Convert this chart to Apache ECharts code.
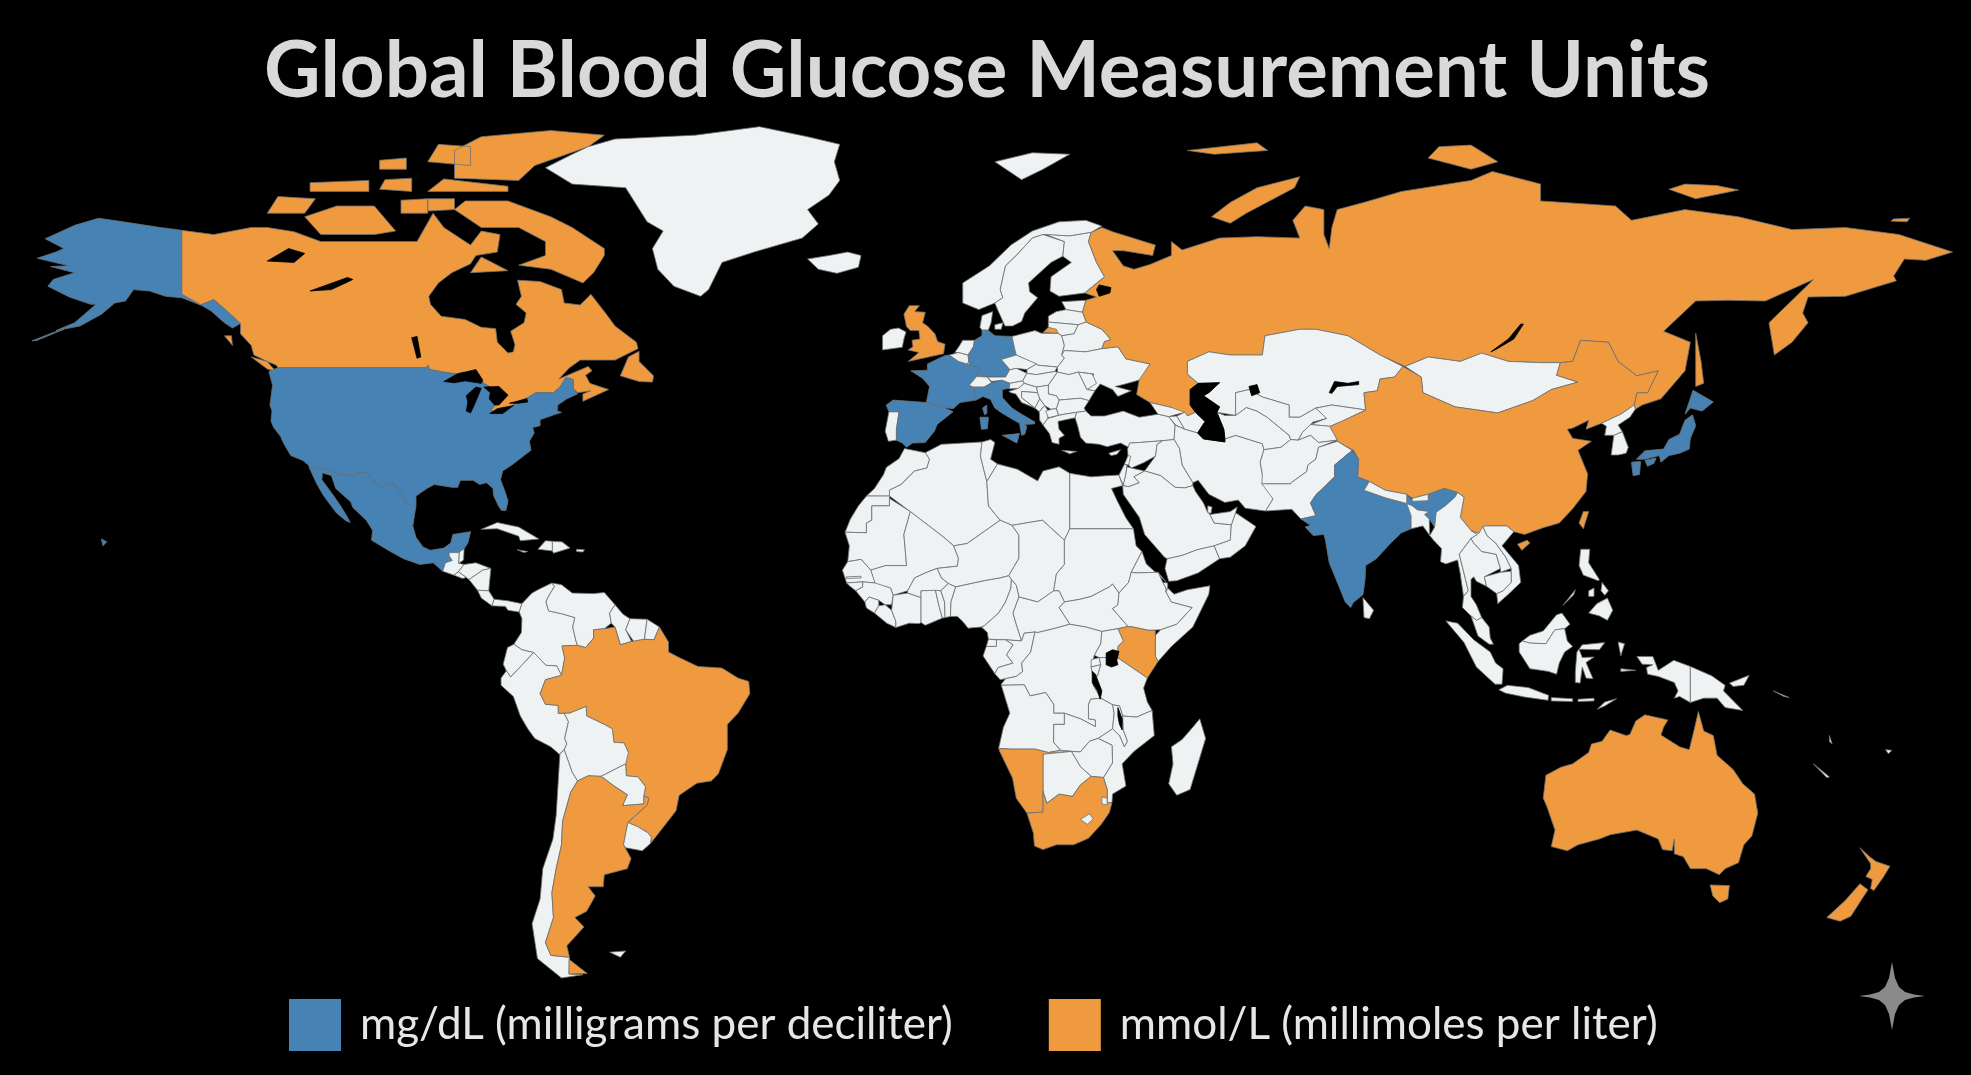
<!DOCTYPE html>
<html>
<head>
<meta charset="utf-8">
<title>Global Blood Glucose Measurement Units</title>
<script src="https://cdn.jsdelivr.net/npm/echarts@6/dist/echarts.min.js"></script>
<style>
html, body { margin: 0; padding: 0; background: #000; }
#chart { width: 1971px; height: 1075px; }
</style>
</head>
<body>
<div id="chart"></div>
<script>
var chartTitle = 'Global Blood Glucose Measurement Units';
var legendLabels = ['mg/dL (milligrams per deciliter)', 'mmol/L (millimoles per liter)'];

// countries per unit, everything else on the map stays white
var mgdlCountries = ['United States', 'Mexico', 'France', 'Germany', 'Spain', 'Italy', 'India', 'Japan'];
var mmolCountries = ['Canada', 'Russia', 'United Kingdom', 'China', 'Brazil', 'Argentina', 'Australia',
    'New Zealand', 'South Africa', 'Namibia', 'Kenya'];

// simplified outlines, "lon,lat" per vertex, one string per polygon
var land = {
    'Canada': [
        '-141,69.6 -135,69 -128,70 -125,70 -120,69.4 -115,68 -108,68 -102,68 -97,68 -94,72 -92,70 -90,69 -87,67.5 -85,69.5 -81.5,69 -82,66.5 -86,66 -87,64.8 -90.5,63.5 -93,62 -94.8,60 -94.5,58.8 -92.5,57 -88,56.5 -85,55.3 -82.3,55.1 -82,53 -80,51.3 -79,51.5 -78.7,52.6 -79.5,54.7 -77,56 -76.6,57.5 -78.5,58.8 -77.5,60 -78.2,62.4 -74,62.2 -70,61 -69.5,59 -66.5,58.7 -64.5,60.3 -61.8,57.5 -60,55.5 -56,53 -55.7,52 -60,50.2 -66.5,50.2 -68.5,49 -70.5,47.2 -65,49.2 -64.3,48.5 -65.5,47.8 -64.7,46.5 -61.2,45.5 -63.5,44.6 -66,43.6 -66,44.8 -64.5,45.3 -67,45 -67.8,45.7 -67.8,47.1 -69.2,47.4 -70.3,45.9 -71.5,45 -74.8,45 -76.3,44.2 -79,43.3 -79,42.8 -82.7,41.7 -83.1,42.2 -82.4,43 -81.7,45 -82.5,45.3 -83.6,45.8 -83.5,46 -84.5,46.5 -84.9,46.9 -88.4,48.3 -89.6,48 -92,48.3 -94.6,48.7 -95,49.4 -95.2,49 -123,49 -123.3,49.4 -125,50 -127.5,51 -128,52.5 -130,54.3 -130,55.9 -133.4,58.4 -135,59.5 -137.5,58.7 -141,60.3',
        '-62,66 -64,63.5 -66,62 -72,64 -78,64.6 -73,66 -73,68 -78,70 -85,70 -90,72.5 -88,73.7 -80,73.7 -72,71.5 -68,70 -62,67',
        '-105,69 -115,69 -118,71.5 -112,73 -105,73 -101,69.5',
        '-125,72 -118,72 -116,74 -123,74.3',
        '-117,75 -106,75 -106,76.5 -117,76.2',
        '-95,75 -80,75 -80,75.7 -92,76.7',
        '-90,76.8 -78,76.5 -75,78.5 -65,81 -62,82.5 -72,83.1 -85,82.3 -90,80.5',
        '-95,79 -87,78.5 -87,81 -93,81.3',
        '-100,72 -95,72 -95,74 -100,73.8',
        '-95,72.3 -90,72.5 -90,74 -95,74',
        '-104,75.3 -98,75 -98,76.8 -103,76.6',
        '-104,78 -99,78 -99,79.5 -104,79.2',
        '-87,63.5 -80,63.8 -85,65.8',
        '-59,47.7 -55.5,46.8 -53,46.7 -52.8,47.7 -55.5,50 -55.5,51.6 -57.5,50.7',
        '-128,50.7 -125,50 -123.4,48.4 -125,48.8',
        '-133,54 -131.7,54 -131.5,52.5'
    ],
    'United States': [
        '-124.7,48.4 -123,49 -95.2,49 -95,49.4 -94.6,48.7 -92,48.3 -89.6,48 -88.4,48.3 -84.9,46.9 -84.5,46.5 -83.5,46 -83.6,45.8 -82.5,45.3 -82.4,43 -83.1,42.2 -82.7,41.7 -79,42.8 -79,43.3 -76.8,43.6 -76.3,44.2 -74.8,45 -71.5,45 -70.3,45.9 -69.2,47.4 -68.3,47.3 -67.8,47.1 -67.8,45.7 -67,44.8 -69,44 -70.7,43 -70.8,42 -70,41.8 -71.4,41.4 -74,40.6 -74,39.6 -75.4,39.3 -75.1,38.4 -76,37 -75.7,35.5 -77,34.6 -78,33.9 -79.3,33 -81,32 -81.4,30.5 -80.5,28.3 -80,26.8 -80.4,25.2 -81.2,25.2 -81.8,26 -82.7,27.8 -82.8,29 -84,30 -85.3,29.7 -86.5,30.4 -88.9,30.4 -89.4,29.2 -90.5,29.2 -93.8,29.7 -95,29.1 -97.2,27.7 -97.2,26 -99.1,26.4 -99.5,27.5 -100.7,29.1 -101.4,29.8 -102.7,29.7 -103.2,29 -104.5,29.6 -106.5,31.8 -108.2,31.8 -108.2,31.3 -111,31.3 -114.8,32.5 -117.1,32.5 -117.3,33 -118.4,33.8 -120.6,34.6 -121.9,36.6 -122.5,37.8 -123.8,39.3 -124.3,40.4 -124.1,42 -124.5,43 -124,46.2',
        '-141,69.6 -145,70 -152,70.8 -156.5,71.3 -161,70.3 -166.5,68.4 -163,67 -164.5,66.5 -168,65.6 -162,64.5 -165.5,64.4 -161,63.5 -165,62.5 -166,61.5 -162,59.9 -158,58.8 -157,58.8 -161,56 -164.5,54.8 -160,55.5 -156,57.3 -153.5,59 -151.5,59.3 -150,61 -147,60.8 -144,60 -141,59.8 -137.5,58.7 -135,59.5 -133.4,58.4 -130,55.9 -131.5,55.2 -133,56 -135.5,57.8 -138,59 -141,60.3',
        '-163,55 -168,53.3 -169,53.2 -165,54.5',
        '-156,20.2 -155,19.7 -155.7,19'
    ],
    'Mexico': ['-117.1,32.5 -114.8,32.5 -111,31.3 -108.2,31.3 -108.2,31.8 -106.5,31.8 -104.5,29.6 -103.2,29 -102.7,29.7 -101.4,29.8 -100.7,29.1 -99.5,27.5 -99.1,26.4 -97.2,26 -97.8,22.5 -97.2,20.5 -95.9,18.8 -94.5,18.2 -92,18.6 -90.7,19.5 -90.3,21 -87,21.5 -87.5,19.5 -88.2,18.5 -89.1,17.9 -91,17.8 -91,17.2 -90.4,16.4 -91.7,16 -92.2,14.5 -94,16 -96.5,15.7 -99.5,16.7 -102,18 -105.5,20 -105.3,21.7 -106.5,23.5 -109,25.7 -109.4,26.7 -112.2,29 -113,31.2 -114.7,31.7 -114.8,30.5 -112.8,28 -111.3,26 -110,24 -109.5,23.1 -110.3,23.4 -112.1,24.8 -114.5,27.8 -115.8,29.9'],
    'Greenland': ['-73,78.2 -68,76 -58,75.5 -54,70.8 -51,69.5 -53,67 -52,64 -49,61.5 -44,60 -42.5,61 -40,65 -34,66.5 -25,68.5 -22,70.5 -24,72.5 -20,74.5 -18,76.5 -19,79 -18,81.3 -24,82.3 -33,83.6 -45,82.5 -60,82 -65,81 -68,80'],
    'Iceland': ['-24,65.5 -22,64 -18.5,63.4 -14.5,64.3 -14,66 -16.5,66.5 -20,66'],
    'Svalbard': ['11,79 16,76.6 20,78 25,80 18,80.2'],
    'Guatemala': ['-92.2,14.5 -91.7,16 -90.4,16.4 -91,17.2 -91,17.8 -89.1,17.8 -89.2,15.9 -88.2,15.7 -89.3,14.4 -90.1,13.8'],
    'Belize': ['-89.1,17.9 -88.2,18.5 -88.3,16.5 -89.2,15.9'],
    'Honduras': ['-89.3,14.4 -88.2,15.7 -86,16 -83.2,15 -84.7,14.7 -87.3,13 -87.8,13.4'],
    'El Salvador': ['-90.1,13.8 -89.3,14.4 -87.8,13.4 -88.5,13.2'],
    'Nicaragua': ['-87.3,13 -84.7,14.7 -83.2,15 -83.6,11 -85.7,11.1'],
    'Costa Rica': ['-85.7,11.1 -83.6,11 -82.6,9.5 -83,8.3 -85,9.7'],
    'Panama': ['-83,8.3 -82.6,9.5 -80,9.2 -77.4,8.7 -77.9,7.2 -80,7.5 -80.5,8.2'],
    'Cuba': ['-85,21.9 -82,23.1 -78,22.3 -74.2,20.2 -77.7,19.9 -78,20.7 -82,22'],
    'Haiti': ['-74.4,18.4 -73,19.9 -71.7,19.8 -71.7,18.1'],
    'Dominican Republic': ['-71.7,19.8 -69.9,19.7 -68.4,18.6 -71.5,17.7 -71.7,18.1'],
    'Jamaica': ['-78.3,18.3 -76.3,18 -77,17.8'],
    'Puerto Rico': ['-67.2,18.4 -65.7,18.3 -66,17.9 -67.2,18'],
    'Colombia': ['-77.9,7.2 -77.4,8.7 -75.5,10.6 -74.2,11.3 -71.8,12.4 -71.3,11.8 -72.5,9.9 -72.9,9 -72.4,7.4 -70,6.9 -67.5,6.2 -67.9,4.5 -67.3,2 -67,1.2 -69.9,1.1 -69.4,-1.1 -70,-4.2 -70.9,-2.5 -72.9,-2.4 -75.2,-0.1 -77.4,0.4 -78.9,1.4 -77.5,3.5 -77.4,6'],
    'Venezuela': ['-71.8,12.4 -70,12.1 -68,10.6 -64,10.5 -62,10.7 -60,8.5 -61,7 -60.7,5.2 -62,4.2 -64,4 -64,2.5 -65.5,0.8 -67,1.2 -67.3,2 -67.9,4.5 -67.5,6.2 -70,6.9 -72.4,7.4 -72.9,9 -72.5,9.9 -71.3,11.8'],
    'Guyana': ['-60,8.5 -58.5,6.8 -57.2,6 -58,4 -56.9,1.9 -59,1.3 -60,4.5 -60.7,5.2 -61,7'],
    'Suriname': ['-57.2,6 -54,5.9 -54.5,2.3 -56.5,1.9 -58,4'],
    'French Guiana': ['-54,5.9 -51.7,4.5 -52.7,2.2 -54.5,2.3'],
    'Ecuador': ['-80.9,-2.2 -80.1,0.8 -78.9,1.4 -77.4,0.4 -75.2,-0.1 -78.4,-3.4 -79.5,-4.5 -80.3,-3.4'],
    'Peru': ['-81.3,-4.7 -80.3,-3.4 -79.5,-4.5 -78.4,-3.4 -75.2,-0.1 -72.9,-2.4 -70.9,-2.5 -70,-4.2 -73,-5 -74,-7.5 -73,-9.4 -70.6,-9.6 -70.6,-11 -69.5,-11 -68.7,-12.5 -69.4,-15.5 -69,-16.5 -69.5,-17.5 -70.4,-18.3 -72,-17 -75,-15.5 -76.3,-13.8 -77.7,-11.5 -79,-8 -81.3,-6'],
    'Brazil': ['-51.7,4.5 -50,1.8 -50,0 -48,-1 -44.5,-2.6 -40,-2.9 -37,-4.7 -35,-5.3 -34.8,-7.5 -37,-11 -39,-13 -39,-17.5 -40.7,-21.8 -42,-23 -44.7,-23.4 -48,-25.5 -48.6,-28.2 -52,-32.2 -53.4,-33.8 -53.2,-32.7 -53.8,-32 -55.8,-30.9 -57.6,-30.2 -54,-27.2 -53.7,-26 -54.6,-25.6 -54.3,-24 -55.7,-22.3 -57.9,-22.1 -58,-20 -58,-18 -57.5,-18 -58.3,-16.3 -60.2,-16.2 -60.5,-13.8 -62,-13 -65.3,-11.5 -65.4,-9.8 -68.5,-11 -69.5,-11 -70.6,-11 -70.6,-9.6 -73,-9.4 -74,-7.5 -73,-5 -70,-4.2 -69.4,-1.1 -69.9,1.1 -67,1.2 -65.5,0.8 -64,2.5 -64,4 -62,4.2 -60,4.5 -59,1.3 -56.9,1.9 -54.5,2.3 -52.7,2.2'],
    'Bolivia': ['-69.5,-11 -68.5,-11 -65.4,-9.8 -65.3,-11.5 -62,-13 -60.5,-13.8 -60.2,-16.2 -58.3,-16.3 -57.5,-18 -58,-20 -62.6,-22.2 -65,-22.1 -67,-23 -68,-21.5 -69.5,-17.5 -69,-16.5 -69.4,-15.5 -68.7,-12.5'],
    'Paraguay': ['-58,-20 -57.9,-22.1 -55.7,-22.3 -54.3,-24 -54.6,-25.6 -54.6,-27 -58.6,-27.3 -57.7,-25.4 -60,-24 -62.6,-22.2'],
    'Chile': ['-69.5,-17.5 -68,-21.5 -67,-23 -68.3,-25 -69.8,-30 -70,-34 -71,-38 -71.8,-42 -71.5,-46 -73,-50 -72,-52 -68.5,-52.3 -68.6,-54.9 -66,-55 -70,-55.5 -74.5,-52.5 -75.5,-47 -74,-43 -73.5,-38 -71.6,-33 -71,-29 -70.3,-18.3'],
    'Argentina': [
        '-65,-22.1 -62.6,-22.2 -60,-24 -57.7,-25.4 -58.6,-27.3 -54.6,-27 -54.6,-25.6 -53.7,-26 -54,-27.2 -57.6,-30.2 -58.2,-33 -58.4,-34 -57,-36.3 -57.7,-38 -62,-39 -62.2,-41 -65,-41 -63.7,-42.5 -65.3,-45 -67.5,-46 -65.8,-47.5 -69,-50.5 -68.5,-52.3 -72,-52 -73,-50 -71.5,-46 -71.8,-42 -71,-38 -70,-34 -69.8,-30 -68.3,-25 -67,-23',
        '-68.6,-52.6 -68.6,-54.9 -65.2,-54.8'
    ],
    'Uruguay': ['-58.4,-34 -58.2,-33 -57.6,-30.2 -55.8,-30.9 -53.8,-32 -53.2,-32.7 -53.4,-33.8 -54.9,-35 -58,-34.5'],
    'Falkland Islands': ['-61,-51.5 -58,-51.3 -59,-52.3'],
    'Morocco': ['-5.9,35.8 -2,35.1 -1.2,34 -1.7,32.5 -4,32 -6.5,29.7 -8.7,28.7 -8.7,27.7 -13,27.7 -11.5,29 -9.8,31.4 -9.3,32.6 -6.9,34.1'],
    'Western Sahara': ['-13,27.7 -8.7,27.7 -8.7,26 -12,26 -12,23.5 -13,23 -13,21.3 -17,21.4 -16,23.7 -14.5,26'],
    'Algeria': ['-2,35.1 1,36.5 8.6,36.9 8.3,34.5 9.5,30.2 9.8,26 12,23.5 5.8,19.4 3.3,19 1.2,20.7 -4.8,25 -8.7,27.7 -8.7,28.7 -6.5,29.7 -4,32 -1.7,32.5 -1.2,34'],
    'Tunisia': ['8.6,36.9 10.2,37.3 11,36.8 10.2,34 11.5,33.2 9.5,30.2 8.3,34.5'],
    'Libya': ['11.5,33.2 15.2,32.3 19,30.3 20,32 23,32.7 25,31.6 25,22 24,20 19.9,23.5 14.2,22.6 12,23.5 9.8,26 9.5,30.2'],
    'Egypt': ['25,31.6 29,31 32,31.2 34.2,31.3 34.9,29.5 32.8,29 33.8,27 35.5,23.9 36.9,22 25,22'],
    'Mauritania': ['-17,21.4 -13,21.3 -13,23 -12,23.5 -12,26 -8.7,26 -8.7,27.3 -4.8,25 -6,21 -5.5,15.5 -9.4,15.5 -12.2,14.7 -14,16.6 -16.5,16.2 -16.2,19'],
    'Mali': ['-4.8,25 1.2,20.7 3.3,19 4.2,16.8 4,15.4 0.2,15 -2,14.2 -4,13.3 -5.3,11 -8,10.2 -8.5,11.5 -11.4,12.2 -12.2,14.7 -9.4,15.5 -5.5,15.5 -6,21'],
    'Niger': ['12,23.5 14.2,22.6 15.5,20.9 15.5,16.8 13.6,13.7 12,13.3 9,12.8 3.7,11.7 2.3,12.3 1,13.3 0.2,15 4,15.4 4.2,16.8 3.3,19 5.8,19.4'],
    'Chad': ['14.2,22.6 19.9,23.5 24,20 24,15.7 22.5,14 22,11 19,9 15.5,9.9 15,12 14.1,13 13.6,13.7 15.5,16.8 15.5,20.9'],
    'Sudan': ['24,20 25,22 36.9,22 37.4,19 38.5,18 36.5,14.3 36,12.5 34.2,10.6 33,12.2 32.4,11.7 29,10 27,9.5 24,9 23,11 22,11 22.5,14 24,15.7'],
    'South Sudan': ['24,9 27,9.5 29,10 32.4,11.7 33,12.2 34.2,10.6 34,8.5 33,7.8 35.9,4.6 34,4.2 31,3.7 28,4.5 25,5 23,8'],
    'Eritrea': ['36.5,14.3 38.5,18 39.3,15.8 43,12.6 41.5,14.3 37.5,14.2'],
    'Ethiopia': ['36.5,14.3 37.5,14.2 41.5,14.3 42.4,12.5 43,11.5 43,10.8 44,9 47.9,8 45,5 42,4 39.8,3.9 36.8,4.5 35.9,4.6 33,7.8 34,8.5 34.2,10.6 36,12.5'],
    'Djibouti': ['42.4,12.5 43.3,12.4 43.3,11.5 43,10.8 43,11.5'],
    'Somalia': ['43.3,11.5 44.5,10.4 47,11.2 51.2,11.9 51,10.4 48,4.5 44,1 41.5,-1.7 41,-0.8 41,3 42,4 45,5 47.9,8 44,9 43,10.8'],
    'Kenya': ['34,4.2 35.9,4.6 36.8,4.5 39.8,3.9 41,3.9 41,-0.8 41.5,-1.7 39.5,-4.7 37.7,-3.5 33.9,-1 34,1 35,2'],
    'Senegal': ['-17.5,14.7 -16.5,16.2 -14,16.6 -12.2,14.7 -11.4,12.4 -13.7,12.6 -16.7,12.4'],
    'Gambia': ['-16.8,13.5 -14,13.6 -14,13.3 -16.8,13.2'],
    'Guinea-Bissau': ['-16.7,12.4 -13.7,12.6 -13.7,11.7 -15,11 -16.2,11.9'],
    'Guinea': ['-13.7,12.6 -11.4,12.4 -8.5,11.5 -8,10.2 -8.3,8.5 -9.5,8.5 -10.7,9.3 -12.5,9.9 -13.3,9 -15,11 -13.7,11.7'],
    'Sierra Leone': ['-13.3,9 -12.5,9.9 -10.7,9.3 -10.7,8.3 -11.5,7 -13,7.9'],
    'Liberia': ['-11.5,7 -10.7,8.3 -9.5,8.5 -8.3,7.5 -7.5,5.5 -7.5,4.4 -9.2,5.2'],
    'Ivory Coast': ['-7.5,4.4 -7.5,5.5 -8.3,7.5 -8,10.2 -5.3,10.6 -2.8,9.8 -2.8,5.3 -3.2,5.1 -5,5.2'],
    'Burkina Faso': ['-5.3,11 -4,13.3 -2,14.2 0.2,15 1,13.3 2.3,12.3 0.9,11 -2.8,11 -2.8,9.8 -5.3,10.6'],
    'Ghana': ['-2.8,11 -0.1,11.1 0.5,8.5 1.2,6.1 -2,4.8 -2.8,5.3'],
    'Togo': ['-0.1,11.1 0.9,11 1.6,9 1.7,6.2 1.2,6.1 0.5,8.5'],
    'Benin': ['0.9,11 2.3,12.3 3.7,11.7 2.8,9 2.7,6.4 1.7,6.2 1.6,9'],
    'Nigeria': ['2.7,6.4 2.8,9 3.7,11.7 9,12.8 12,13.3 13.6,13.7 14.1,13 14,11.5 13,9 11.7,7 9,4.7 8.5,4.5 6,4.3 5,5.5 4,6.4'],
    'Cameroon': ['8.5,4.5 9,4.7 11.7,7 13,9 14,11.5 14.1,13 15,12 15.5,9.9 14.4,7 15,5 16,2 13,2.2 9.8,2.3 9.6,3.5'],
    'Central African Republic': ['15,5 14.4,7 15.5,9.9 19,9 22,11 23,11 24,9 23,8 25,5 22,4.2 19,3.5 18.5,3.6 16.5,3.4 16,2'],
    'Equatorial Guinea': ['9.8,2.3 11.3,2.2 11.3,1 9.4,1'],
    'Gabon': ['9.4,1 11.3,1 11.3,2.2 13,2.2 14.4,1.3 13.2,-0.5 14.4,-2 11.6,-2.8 11,-3.9 8.8,-0.7'],
    'Congo': ['13,2.2 16,2 16.5,3.4 18.5,3.6 17.7,0 16,-2 16.2,-3.5 15,-4.4 13,-4.8 12,-5 11,-3.9 11.6,-2.8 14.4,-2 13.2,-0.5 14.4,1.3'],
    'DR Congo': ['18.5,3.6 19,3.5 22,4.2 25,5 28,4.5 31,3.7 30.8,1.5 29.6,-0.6 29,-2.7 29.4,-4.5 29.4,-6 30.8,-8.3 28.9,-8.5 28.5,-9.5 28.5,-12 29.8,-12.2 29.8,-13.4 27,-12 24,-11 22,-11 22,-9.4 20.5,-7.3 17.6,-7.9 16.5,-5.9 12.2,-6 12.2,-5.8 13,-4.8 15,-4.4 16.2,-3.5 16,-2 17.7,0'],
    'Uganda': ['31,3.7 34,4.2 35,2 34,1 33.9,-1 30.5,-1 29.6,-0.6 30.8,1.5'],
    'Rwanda': ['29,-1.4 30.5,-1 30.8,-2.3 29,-2.7'],
    'Burundi': ['29,-2.7 30.8,-2.3 30.2,-4.3 29.4,-4.5'],
    'Tanzania': ['33.9,-1 37.7,-3.5 39.5,-4.7 38.8,-6.5 39.5,-9 40.4,-10.5 37.5,-11.7 34.9,-11.5 34.3,-9.7 33,-9.5 30.8,-8.3 29.4,-6 29.4,-4.5 30.2,-4.3 30.8,-2.3 30.5,-1'],
    'Angola': ['12.2,-6 16.5,-5.9 17.6,-7.9 20.5,-7.3 22,-9.4 22,-11 24,-11 24,-13 22,-13 22,-16.2 23.3,-17.6 21,-18 18.5,-17.4 14,-17.4 11.7,-17.3 12.6,-13.5 13.8,-11 13,-8.5'],
    'Zambia': ['22,-13 24,-13 24,-11 27,-12 29.8,-13.4 29.8,-12.2 28.5,-12 28.5,-9.5 28.9,-8.5 30.8,-8.3 33,-9.5 33.3,-11 33,-13.8 30.3,-15.5 28.7,-16 27,-17.9 25.3,-17.8 23.3,-17.6 22,-16.2'],
    'Malawi': ['33,-9.5 34.3,-9.7 34.9,-11.5 35,-14 35.8,-16 35.2,-17 34.3,-15 33,-13.8 33.3,-11'],
    'Mozambique': ['34.9,-11.5 37.5,-11.7 40.4,-10.5 40.8,-15 37,-17.8 34.8,-20 35.5,-23.9 33,-25.3 32.9,-26.8 32,-26.8 32,-24.5 31.3,-22.4 33,-19.8 32.9,-16.7 30.3,-15.5 33,-13.8 34.3,-15 35.2,-17 35.8,-16 35,-14'],
    'Zimbabwe': ['25.3,-17.8 27,-17.9 28.7,-16 30.3,-15.5 32.9,-16.7 33,-19.8 31.3,-22.4 29,-22.2 27,-20.5'],
    'Botswana': ['20,-18.3 21,-18 23.3,-17.6 25.3,-17.8 27,-20.5 29,-22.2 27,-23.7 25.5,-25.7 23,-25.3 20.7,-26.9 20,-24.8'],
    'Namibia': ['11.7,-17.3 14,-17.4 18.5,-17.4 21,-18 25.3,-17.8 23.3,-18 20,-18.3 20,-24.8 20,-28.4 17,-28.6 15,-26 14.3,-22.5 12,-18'],
    'South Africa': ['17,-28.6 20,-28.4 20,-24.8 20.7,-26.9 23,-25.3 25.5,-25.7 27,-23.7 29,-22.2 31.3,-22.4 32,-24.5 32,-26.8 32.9,-26.8 32.4,-28.5 30.9,-30.5 28.5,-32.9 25.7,-34 22.5,-34 20,-34.8 18.4,-34.2 18.2,-32'],
    'Lesotho': ['27,-29.7 28.7,-28.7 29.4,-29.6 28.3,-30.5'],
    'Eswatini': ['31,-25.8 32,-26 32,-27.2 31,-27'],
    'Madagascar': ['49.3,-12 50.4,-15.5 47.5,-24.5 45,-25.5 43.5,-23.5 44.3,-20 44,-17 46,-15.7 48,-13.5'],
    'Portugal': ['-9.5,38.7 -8.9,37 -7.4,37.2 -7.4,39 -6.9,41.9 -8.8,41.9'],
    'Spain': ['-8.8,41.9 -6.9,41.9 -7.4,39 -7.4,37.2 -6.3,36.7 -5.5,36 -4.4,36.7 -2,36.8 -0.3,38.7 0.2,39.8 3.2,41.9 1.5,42.6 -1.8,43.4 -8,43.8 -9.3,43'],
    'France': [
        '-1.8,43.4 1.5,42.6 3.2,42.4 4.5,43.4 7.5,43.8 7,45.9 6.2,46.2 7.6,47.6 8.2,49 6.2,49.5 4.2,50 2.5,51 1.6,50.9 -1.6,49.6 -1.6,48.6 -4.7,48.5 -2.5,47.3 -1.2,46',
        '8.7,42.5 9.5,43 9.5,41.6 9.1,41.4'
    ],
    'Belgium': ['2.5,51 4.2,51.4 6,51 6.2,49.5 4.2,50'],
    'Netherlands': ['3.5,51.4 4.2,51.4 6,51 7,52.3 7.2,53.3 5,53.3 4.2,52.2'],
    'Luxembourg': ['5.8,49.6 6.4,49.5 6.2,50.1'],
    'Germany': ['6,51 7,52.3 7.2,53.3 8.6,54 8.6,55 9.8,54.8 11,54 14.2,53.9 14.7,52 15,51 12.2,50.3 13.8,48.7 13,47.5 7.6,47.6 8.2,49 6.2,49.5'],
    'Switzerland': ['6.2,46.2 7,45.9 9,45.9 10.4,46.6 9.6,47.5 7.6,47.6'],
    'Austria': ['9.6,47.5 10.4,46.8 12.3,47 13.8,46.5 16.2,46.9 17,48.1 15,48.9 13.8,48.7 13,47.5'],
    'Italy': [
        '7,45.9 7.5,43.8 8.8,44.4 10.2,43.9 11,42.5 12.3,41.7 14,40.8 15.6,40 16,38 16.6,38.2 17,39.5 16.5,39.8 18.4,39.9 18.5,40.2 16,41.5 14.2,42.5 12.4,44.2 12.4,45.5 13.7,45.7 13.8,46.5 12.3,47 10.4,46.6 9,45.9',
        '12.4,38 15.6,38.3 15.1,36.7',
        '8.2,41 9.8,41 9.6,39.1 8.5,39'
    ],
    'United Kingdom': ['-5.2,50 1.4,51.2 1.7,52.7 0.3,53.1 -0.2,54.3 -1.6,55.5 -2.5,56 -2,57.6 -4,57.7 -3.1,58.6 -5,58.6 -6,57.3 -5.5,55.4 -4.8,54.8 -3.2,54.8 -3,53.5 -4.5,53.3 -4.3,52.3 -5.2,51.8 -3.2,51.4'],
    'Ireland': ['-10,51.8 -6.3,52.2 -6,53.5 -5.6,54.6 -7,55.2 -8.5,55 -10,54'],
    'Denmark': ['8.2,55.3 8.6,57.1 10.6,57.7 10.3,56 9.8,54.9 8.6,54.9', '11,55.7 12.5,56 12.2,55 11,55'],
    'Norway': ['5,59 5,62 10,64.5 14,67.5 18,69.5 23,70.8 28,71 31,70.2 29,69.3 25,68.8 20,69 18,68.5 15,66 13,64.5 12,61 12.5,59.8 11,59 8,58'],
    'Sweden': ['11,59 12.5,59.8 12,61 13,64.5 15,66 18,68.5 20,69 24,68 23.7,65.9 21.5,65 17.3,62 17.5,60.7 19,59.8 16.6,57.5 16,56.2 14.3,55.5 12.9,55.5 11.5,58'],
    'Finland': ['20.5,69 25,68.8 29,69.3 28.5,68 30,65 31.5,62.9 27.8,60.5 23,60 21.3,60.8 21.5,62.9 25.3,65 23.7,65.9 24,68'],
    'Estonia': ['23.5,59.2 28,59.4 27.4,57.6 24.3,58'],
    'Latvia': ['21,57 22.5,57.7 24.3,58 27.4,57.6 28.1,56.1 26.6,55.7 21,56.1'],
    'Lithuania': ['21,56.1 26.6,55.7 25.8,54.3 23.5,54 22.8,54.4 21,55.3'],
    'Poland': ['14.2,53.9 18.5,54.8 19.7,54.4 22.8,54.4 23.5,54 24,52.5 23.5,51 24,50.5 22.7,49.1 19,49.4 15,51 14.7,52'],
    'Belarus': ['23.5,54 25.8,54.3 26.6,55.7 28.1,56.1 31,55 32.7,53.4 31.5,53.1 31,52 28,51.5 24,51.7 23.5,51 24,52.5'],
    'Ukraine': ['24,51.7 28,51.5 31,52 34,52.3 35.5,50.4 40,49.6 38.3,47.1 35,46.3 33.5,46 36.5,45.3 34,44.4 33,45.5 30.7,46.4 29.7,45.3 28.2,45.5 29.5,48 26.6,48.3 24.8,47.9 22.7,48.3 22.7,49.1 24,50.5 23.5,51'],
    'Moldova': ['26.6,48.3 29.2,48 30,46.5 28.2,45.5'],
    'Czechia': ['12.2,50.3 15,51 18.8,49.6 17,48.7 15,48.9 13.8,48.7'],
    'Slovakia': ['17,48.1 17,48.7 18.8,49.6 19,49.4 22.7,49.1 22.2,48.4 18.8,47.9'],
    'Hungary': ['16.2,46.9 17,48.1 18.8,47.9 22.2,48.4 22.7,48.3 21,46.2 18.8,45.9 16.5,46.5'],
    'Romania': ['22.7,48.3 24.8,47.9 26.6,48.3 28.2,45.5 29.7,45.3 28.6,43.7 27,44.1 23,43.8 22.5,44.5 21,44.8 21,46.2'],
    'Bulgaria': ['23,43.8 27,44.1 28.6,43.7 27.7,42.5 28,42 26.3,41.8 24,41.5 22.9,41.3 22.5,42.4'],
    'Slovenia': ['13.7,45.6 13.8,46.5 16.2,46.9 16.5,46.5 15.4,45.7'],
    'Croatia': ['13.6,45.2 15.4,45.7 16.5,46.5 18.8,45.9 19,45 16,45.2 16,44.2 18.5,42.5 16,43.4 14.9,44.8 14,45'],
    'Bosnia': ['16,45.2 19,45 19.4,44 18.5,42.5 16,44.2'],
    'Serbia': ['18.8,45.9 21,46.2 21,44.8 22.5,44.5 23,43.8 22.5,42.4 21.5,42.3 20.3,42.9 19.4,44 19,45'],
    'Montenegro': ['18.5,42.5 19.4,44 20.3,42.9 19.3,41.9'],
    'Albania': ['19.3,41.9 20.3,42.9 21,42 20.9,40.8 20,39.7 19.4,40.5'],
    'North Macedonia': ['20.5,42 21.5,42.3 22.5,42.4 22.9,41.3 21,40.9 20.9,41'],
    'Greece': ['20,39.7 20.9,40.8 22.9,41.3 24,41.5 26.3,41.8 26,40.9 23.8,40.5 22.8,40.3 23,39 24,38 23,37.5 23,36.5 21.7,36.8 21.2,38.3', '23.5,35.5 26.3,35.3 25,34.9'],
    'Cyprus': ['32.3,35 34.5,35.6 33.8,34.8 32.7,34.6'],
    'Russia': [
        '28,59.4 30,59.9 27.8,60.5 31.5,62.9 30,65 28.5,68 29,69.3 31,70 33,69.4 41,67.5 40.5,66 35,66.7 33,66.7 35,64.5 37,64 40,64.7 44,66 44,68 46,66.8 53,68.5 60,68.7 68,68.5 66.7,71 69,73 72.5,72.5 72.5,69 73.5,67 74,70 75,72.5 80,73.5 87,75 100,76.5 104,77.7 113,76 113,73.7 127,73 130,71 140,72.5 150,71.5 160,69.7 170,70 180,69 190,66.5 185,65.3 181,65.5 179,63 179.5,62.3 170,60 163,59.9 162,57.5 163,56 160,53 156.7,51 155.7,56 164,62.5 155,59.3 148,59.4 142,59.3 136,54.7 141,53 140,48.5 135.5,44 132,43 130.7,42.3 130.5,43 131,45 133,45 135,48.5 131,47.7 127.5,50 125.7,53 120.5,53.3 119,50 116.7,49.8 113,49.8 107,50 102,51.3 98,50 92,50.7 87.7,49.2 83,51 77,54 71,55 68,55 61.5,54 61,51 55,51 51,51.5 47,50 47,48 49,46.5 47.5,45.5 47.5,43 48.5,41.8 47,41.2 44,42.6 40,43.4 37.5,44.7 38,47.1 40,49.6 35.5,50.4 34,52.3 31,52 31.5,53.1 32.7,53.4 31,55 28.1,56.1 27.4,57.6',
        '20,54.5 22.8,54.4 22.5,55 21,55.3',
        '142,54.4 143,50 143.5,46.5 142,46 142,50',
        '51.5,71.5 55,73.5 60,75.5 68,77 67,75.5 58,72 55,70.6',
        '47,80.5 60,81.5 62,80.5 52,80',
        '92,79.5 100,78 105,79 100,81.2 94,81',
        '137,75.3 142,74 150,75.2 146,75.8 140,76',
        '179,71.2 182,71.3 181.5,70.8 178.5,70.9'
    ],
    'Kazakhstan': ['47,50 51,51.5 55,51 61,51 61.5,54 68,55 71,55 77,54 83,51 87.3,49.2 85.7,47.5 83,47.2 82.5,45.3 80,45 80.3,42.2 74,43 71,42.5 68,41 66,41 66,43 61,44.3 58.5,45.5 56,45 56,41.3 52.5,41.8 53,42.7 50,44.5 51,45 53,46.6 49,46.5 47,48'],
    'Mongolia': ['87.7,49.2 92,50.7 98,50 102,51.3 107,50 113,49.8 116.7,49.8 116,47.8 120,46.7 115,45.5 111.5,43.7 105,41.7 97,42.7 91,45 90.7,47.5'],
    'China': [
        '73.6,39.5 80,42 80.3,42.2 80,45 82.5,45.3 83,47.2 85.7,47.5 87.3,49.2 90.7,47.5 91,45 97,42.7 105,41.7 111.5,43.7 115,45.5 120,46.7 116,47.8 116.7,49.8 119,50 120.5,53.3 125.7,53 127.5,50 131,47.7 135,48.5 133,45 131,45 130.5,43 128,41.5 124.4,40 121.5,39 122,40.5 119,39.2 118,39 119,37.5 122.5,37 120,35.5 121.8,31.5 121.5,28.5 119,25.5 116.5,23 113.5,22.2 110,21 108,21.5 106.7,22.5 103,22.5 101.5,21.2 100,21.7 98,24 98.7,27.5 97.5,28.3 95,29 92,28 89,27.3 88,28 84,28.7 81,30.2 78.8,31 79,34 78,35.5 75,37',
        '108.7,19.3 110.5,20 111,19.5 109.5,18.2',
        '120.2,23 121,25 122,25 121,22'
    ],
    'North Korea': ['124.4,40 128,41.5 130.5,43 130.7,42.3 129.7,41 127.5,39.7 128.3,38.6 126.7,38 125,38 125.3,39.5'],
    'South Korea': ['126.2,34.7 126.7,38 128.3,38.6 129.4,36 129,35 127.5,34.7'],
    'Japan': [
        '130.9,34 132.5,35.4 136,35.7 137,37.3 139,38.2 140,40.5 141.4,41.4 142,39.6 141,37.5 140.8,35.7 139,35 137,34.6 135.5,33.5 135.2,34.6 132.5,34',
        '130,33.5 131.7,33.6 131.5,31.4 130.3,31.2',
        '132.5,33.8 134.6,34.2 134.2,33.3 133,32.8',
        '140,41.5 141.5,45.4 145.3,43.5 143.2,42 141,42.5'
    ],
    'Turkey': ['26,40.9 26.3,41.8 28,42 29,41.2 31.5,41.2 35,42 38,41 41.5,41.5 43.5,41.1 44.7,39.7 44.5,37.3 42.3,37.1 38,36.8 36.2,36.7 36,36 34.5,36.7 32,36.1 30.5,36.5 28,36.7 27,37.7 26.5,39.5'],
    'Georgia': ['40,43.4 44,42.6 46.5,41.8 43.5,41.1 41.5,41.5'],
    'Armenia': ['43.5,41.1 45,41.2 46.5,39 44.8,39.7'],
    'Azerbaijan': ['45,41.2 46.5,41.8 47,41.2 48.5,41.8 50.3,40.3 48.9,38.4 46.5,39'],
    'Iran': ['44.7,39.7 46.5,39 48.9,38.4 50,37.4 54,36.9 54,37.4 56,38 61,36.6 61.3,35.6 60.6,33.5 61,31.4 63,27.2 61.6,25.1 57.8,25.6 56.5,27 54,26.6 51,28 49,30.4 48,30 46,33 45.5,35.8 44.5,37.3'],
    'Iraq': ['42.3,37.1 44.5,37.3 45.5,35.8 46,33 48,30 48,29.5 46.5,29.1 44.7,29.2 42,31.2 39,32 41,34.5 41.3,36.5'],
    'Syria': ['36.2,36.7 38,36.8 42.3,37.1 41.3,36.5 41,34.5 38.8,33.4 36.5,32.5 36,33 35.8,35.7'],
    'Lebanon': ['35.2,33.1 36,33 36.4,34.5 35.9,34.6'],
    'Israel': ['34.2,31.3 35.2,33.1 35.7,33 35.5,31.5 35,29.5'],
    'Jordan': ['35,29.5 35.5,31.5 35.7,32.7 36.5,32.5 39,32 37,31 38,30 36,29.3'],
    'Saudi Arabia': ['34.9,29.5 36,29.3 38,30 37,31 39,32 42,31.2 44.7,29.2 46.5,29.1 48,29.5 48.5,28.5 50,26.5 50.7,25 51.2,24.5 52,23 55.2,22.7 55,20 52,19 48.8,18.3 46,17.3 43.2,16.7 42.7,17 39,21 38,24 36.5,26 35,28'],
    'Yemen': ['43.2,16.7 46,17.3 48.8,18.3 52,19 53,16.7 49,14.2 45,12.8 43.5,12.7 42.8,15'],
    'Oman': ['52,19 55,20 55.2,22.7 56,24.8 56.5,24.5 59.8,22.4 57.8,19 55,17 53,16.7'],
    'United Arab Emirates': ['51.2,24.5 52,23 55.2,22.7 56,24.8 56.3,25.8 55,25'],
    'Qatar': ['50.8,24.8 50.8,26 51.6,25.8 51.4,24.7'],
    'Turkmenistan': ['52.5,41.8 54,41.3 56,41.3 58,42.6 60,42 61.9,41 66,38 66.3,37.3 64.5,36 61.3,35.6 61,36.6 56,38 54,37.4 53.8,39'],
    'Uzbekistan': ['56,45 58.5,45.5 61,44.3 66,43 66,41 68,41 71,42.5 73,40.8 70.5,40.2 68.5,38.5 67.7,37.2 66.3,37.3 66,38 61.9,41 60,42 58,42.6 56,41.3'],
    'Kyrgyzstan': ['71,42.5 74,43 80.3,42.2 76,40.4 73.6,39.5 70,39.8 73,40.8'],
    'Tajikistan': ['68.5,38.5 70.5,40.2 70,39.8 73.6,39.5 75,37.2 71.5,36.8 70,38 67.7,37.2'],
    'Afghanistan': ['61.3,35.6 64.5,36 66.3,37.3 67.7,37.2 70,38 71.5,36.8 75,37.2 71.5,36 71,34 69.5,33 69.3,31.9 66.4,30 66.3,29.8 60.9,29.8 61,31.4 60.6,33.5'],
    'Pakistan': ['60.9,29.8 66.3,29.8 66.4,30 69.3,31.9 69.5,33 71,34 71.5,36 75,37 77.8,35.5 74.5,33 74.5,31 71,27.9 70,26.5 71,24.3 68.2,23.7 66.5,25.4 61.6,25.1 63,27.2'],
    'India': ['77.8,35.5 79,34 78.8,31 81,30.2 80,28.7 84,27.4 88,26.4 88,28 89,27 92,26.9 92,28 95,29 97.5,28.3 97,27.5 95.2,26 93.5,24.9 93.2,22.3 92.2,23.7 91.3,24.5 92.2,25 90,25.3 89,26 88.8,24.3 88.8,22 87,21.3 85,19.5 82.3,16.7 80.3,15.5 80.2,13 79.8,10.3 78,8.9 77.5,8 76.5,9 74.8,13 73.5,16 72.8,20 72.5,21 70.5,20.8 69,22.3 70,22.6 68.2,23.7 71,24.3 70,26.5 71,27.9 74.5,31 74.5,33'],
    'Nepal': ['80,28.7 81,30.2 84,28.7 88,28 88,26.4 84,27.4'],
    'Bhutan': ['89,27.3 92,28 92,26.9 89,26.8'],
    'Bangladesh': ['88,26.4 89,26 90,25.3 92.2,25 91.3,24.5 92.2,23.7 92.3,20.8 91,22.5 88.8,22 88.8,24.3'],
    'Sri Lanka': ['79.8,9.8 81.8,7.5 81,6 80,6.2'],
    'Myanmar': ['97.5,28.3 98.7,27.5 98,24 100,21.7 101.2,21 100,20.3 97.8,17.5 98.6,14.5 99.5,11 98.6,10 98,14 97.5,16.5 95.3,15.8 94.3,16.2 94.5,18.5 93,20 92.3,20.8 93.2,22.3 93.5,24.9 95.2,26 97,27.5'],
    'Thailand': ['100,20.3 100.5,19.5 102,18 104.7,17.5 105.5,15 102.5,13.5 102.9,11.8 101,12.7 100.5,13.5 100,13 100,10 101,8.5 102,6.2 101,5.7 100,6.5 98.4,8 98.6,10 99.5,11 98.6,14.5 97.8,17.5'],
    'Laos': ['100,21.7 101.5,21.2 102.2,22.4 103,20.8 104.6,19.5 106.5,17 107.5,15 105.5,14.3 105.5,15 104.7,17.5 102,18 100.5,19.5 100,20.3 101.2,21'],
    'Vietnam': ['103,22.5 106.7,22.5 108,21.5 105.8,19 108.9,15.5 109.3,12.5 107,10.4 105,8.7 104.8,10.5 106,11 107.5,12.5 107.5,15 106.5,17 104.6,19.5 103,20.8 102.2,22.4'],
    'Cambodia': ['102.9,11.8 102.5,13.5 105.5,14.3 107.5,14.5 107.5,12.5 106,11 104.8,10.5'],
    'Malaysia': [
        '100,6.5 101,5.7 102,6.2 103.4,4.5 103.6,2.5 104.2,1.4 103.4,1.4 101.3,2.9',
        '109.6,2 111,1.6 114,1.5 115.7,4 117.5,4.2 118.5,5 117,7 116,6.7 113.5,3.8 111,3'
    ],
    'Indonesia': [
        '109,1.5 109.6,2 111,1.6 114,1.5 115.7,4 117.5,4.2 118,2 119,1 117.5,0 116.5,-2 116,-4 114.5,-3.5 111,-3 110,-1.5 109,0',
        '95.3,5.6 97.5,5.2 100.5,2.2 103.6,0 104.6,-2 106,-3 105.8,-5.8 104.5,-5.8 101,-2.7 98.7,1.7',
        '105.2,-6.8 106.8,-6 110.7,-6.4 114.5,-7.8 114.4,-8.7 110,-8.1 106.4,-7.4',
        '115,-8.2 119,-8.4 119,-8.9 115,-8.8',
        '120,-8.5 123,-8.3 123,-8.8 120,-8.9',
        '123.6,-10.3 125,-9 127.2,-8.4 125,-9.7',
        '119.5,-5.5 120.4,-5.6 120.8,-2.7 121.5,-4.7 122.8,-4.8 121.5,-1.9 123,-0.9 120.8,-1 120.2,0.5 124,0.4 125,1.7 120.8,1.3 119.8,0 119.5,-3.5',
        '127.5,1.8 128.7,1.5 128,-0.7',
        '128,-3 130.8,-3.3 128,-3.5',
        '131,-0.8 134,-0.8 135,-3.3 137.9,-1.5 141,-2.6 141,-9.1 139,-8 138,-8.3 138.7,-7 138,-5.5 135,-4.4 133,-4 132.8,-2.8 134,-2.3 132,-2.2'
    ],
    'Papua New Guinea': [
        '141,-2.6 145,-4.3 147.5,-6 147.2,-7 150.8,-10.5 147.5,-10 146,-8.3 143.5,-8.3 141,-9.1',
        '148.3,-5.6 152,-4.2 151,-6 149,-6.2'
    ],
    'Solomon Islands': ['156.5,-7 159.5,-8.2 158.5,-8'],
    'Vanuatu': ['167,-15 167.5,-16.5 167,-16'],
    'New Caledonia': ['164,-20 167,-22.3 166.5,-22.4'],
    'Fiji': ['177.5,-17.5 178.7,-17.6 178,-18.2'],
    'Philippines': [
        '120.5,18.4 122.2,18.4 122,16 124,13 123.8,12.8 121,13.8 120.2,15.5',
        '122,7 123.5,8.7 125.5,9.7 126.5,7.5 125.5,5.7 124,6.5',
        '122,11 123,11.5 123,10 122,10',
        '124.5,12.5 125.7,11 125,10.2 124.3,11',
        '117.2,8.4 119.5,11.2 119.2,10.3'
    ],
    'Australia': [
        '113.5,-26 114,-22 116.8,-20.6 119,-20 122,-18 122.5,-16.5 124.5,-16 126,-14 129,-15 129.7,-14.8 130.8,-12.4 132.5,-11.3 136.8,-12.2 136,-13.5 135.5,-14.9 139,-17 140.8,-17.5 141.7,-14 142.5,-10.7 143.5,-14.2 145.3,-15 146,-18.5 149,-21 150.8,-23.5 153,-25.3 153.6,-28.6 152.5,-32.5 151,-34 150,-37 147.5,-38 146.4,-39 144,-38 141,-38 139.7,-36 138,-35.5 138,-33 137.6,-35 135.8,-34.8 135,-33 131,-31.5 126,-32.3 124,-33 120,-34 118,-35 115,-34.3 115.7,-31.5 114.2,-27.5',
        '144.7,-40.7 148.3,-40.8 148,-43 146.5,-43.6 145.2,-42.5'
    ],
    'New Zealand': [
        '172.7,-34.5 174.5,-36 175.7,-36.8 178.3,-37.6 177,-39.5 175.3,-41.6 174.7,-41.3 175,-39.8 173.8,-39.3 174.7,-38 174.7,-37.2',
        '172.7,-40.5 174.2,-41.5 172.7,-43.5 171,-45.8 169,-46.6 166.5,-46 170,-43.2'
    ]
};

// lakes and inland seas are painted over the land
var water = {
    'Lake Superior': ['-92,46.8 -89.5,48 -86,48.7 -84.7,47 -85,46.5 -88,46.9 -90,46.6'],
    'Lake Michigan': ['-87.8,42 -87,41.7 -86.3,43 -85,45.7 -86,45.9 -87.8,44.5 -87.5,43.5'],
    'Lake Huron': ['-84.5,45.9 -81.7,46 -80,44.6 -81.7,43 -82.5,43 -83.5,44 -83.3,45'],
    'Lake Erie': ['-83.4,41.6 -82,42.4 -79,42.9 -81,41.6'],
    'Lake Ontario': ['-79.7,43.3 -76.5,44 -76.3,43.5 -78,43.3'],
    'Great Bear Lake': ['-125,65.2 -121,67 -118,66.3 -120,65'],
    'Great Slave Lake': ['-117,60.8 -110,62.8 -109,62.5 -113,61'],
    'Lake Winnipeg': ['-98,53.7 -97,53.9 -96.3,50.7 -97,50.5'],
    'Caspian Sea': ['47.5,45.5 49,46.5 53,46.6 51,45 50,44.5 53,42.7 52.5,41.8 53.8,39 54,37.4 54,36.9 50,37.4 48.9,38.4 50.3,40.3 48.5,41.8 47.5,43'],
    'Aral Sea': ['58.5,46 60,46.3 60.5,45 59,44.5'],
    'Lake Balkhash': ['73.5,45 74.5,46.8 77,46.5 79,46.8 79,46.3 75,46 74,44.9'],
    'Lake Baikal': ['103.7,51.5 104.5,51.8 108,53.5 109.8,55.8 109.3,55.8 107,53.5'],
    'Lake Ladoga': ['30.5,60 32.5,60.5 32.7,61.3 30.5,61.7 30,61'],
    'Lake Victoria': ['31.8,-0.2 33,0.4 34.2,0.1 33.8,-1.5 34,-2.3 32.8,-2.7 31.8,-2.3'],
    'Lake Tanganyika': ['29.2,-3.5 29.8,-4 31,-7 30.7,-8.5 30.2,-7 29.2,-5.5'],
    'Lake Malawi': ['34,-10 34.8,-12 34.8,-14 34.3,-13 34,-11.5']
};

function toFeature(name, polygons) {
    return {
        type: 'Feature',
        properties: { name: name },
        geometry: {
            type: 'MultiPolygon',
            coordinates: polygons.map(function (str) {
                var ring = str.split(' ').map(function (p) {
                    return p.split(',').map(Number);
                });
                ring.push(ring[0]);
                return [ring];
            })
        }
    };
}

var features = [];
Object.keys(land).forEach(function (name) { features.push(toFeature(name, land[name])); });
Object.keys(water).forEach(function (name) { features.push(toFeature(name, water[name])); });
echarts.registerMap('world', { type: 'FeatureCollection', features: features });

// the picture stretches the high latitudes a bit, longitudes stay linear
var xScale = 5.35, xZero = 936, yZero = 652;
var projection = {
    project: function (c) {
        var lat = c[1];
        return [xZero + xScale * c[0], yZero - (5.55 * lat + 1.05e-4 * lat * lat * lat)];
    },
    unproject: function (p) {
        var h = yZero - p[1];
        var lat = h / 5.55;
        for (var i = 0; i < 6; i++) {
            lat = lat - (5.55 * lat + 1.05e-4 * lat * lat * lat - h) / (5.55 + 3.15e-4 * lat * lat);
        }
        return [(p[0] - xZero) / xScale, lat];
    }
};

// map box = projected extent, so that projected numbers are page pixels
var minX = Infinity, minY = Infinity, maxX = -Infinity, maxY = -Infinity;
features.forEach(function (f) {
    f.geometry.coordinates.forEach(function (poly) {
        poly[0].forEach(function (c) {
            var p = projection.project(c);
            minX = Math.min(minX, p[0]);
            maxX = Math.max(maxX, p[0]);
            minY = Math.min(minY, p[1]);
            maxY = Math.max(maxY, p[1]);
        });
    });
});

var mapData = Object.keys(land).map(function (name) {
    var value = 0;
    if (mgdlCountries.indexOf(name) >= 0) value = 1;
    if (mmolCountries.indexOf(name) >= 0) value = 2;
    return { name: name, value: value };
});
Object.keys(water).forEach(function (name) {
    mapData.push({
        name: name,
        value: 0,
        visualMap: false,
        itemStyle: { areaColor: '#000', color: '#000', borderColor: '#000' }
    });
});

var myChart = echarts.init(document.getElementById('chart'));

var option = {
    backgroundColor: '#000',
    animation: false,
    title: {
        text: chartTitle,
        left: 982,
        top: 28,
        textAlign: 'center',
        textStyle: {
            color: '#d9d9d9',
            fontFamily: 'Lato',
            fontWeight: 'bold',
            fontSize: 78
        }
    },
    visualMap: {
        type: 'piecewise',
        orient: 'horizontal',
        left: 274,
        top: 984,
        itemWidth: 52,
        itemHeight: 52,
        itemGap: 96,
        itemSymbol: 'rect',
        textGap: 19,
        selectedMode: false,
        hoverLink: false,
        pieces: [
            { value: 1, label: legendLabels[0], color: '#4682b4' },
            { value: 2, label: legendLabels[1], color: '#f09a3f' }
        ],
        outOfRange: { color: '#eef2f3' },
        textStyle: { color: '#e6e6e6', fontFamily: 'Lato', fontSize: 44 }
    },
    series: [{
        type: 'map',
        map: 'world',
        projection: projection,
        left: minX,
        top: minY,
        width: maxX - minX,
        height: maxY - minY,
        roam: false,
        silent: true,
        label: { show: false },
        emphasis: { disabled: true },
        select: { disabled: true },
        itemStyle: { areaColor: '#eef2f3', borderColor: '#6f7274', borderWidth: 0.8 },
        data: mapData
    }],
    graphic: [{
        // sparkle in the lower right corner
        type: 'polygon',
        silent: true,
        x: 1892,
        y: 996,
        shape: {
            points: [[0, -34], [3, -18], [7, -9], [13, -4], [22, -1.5], [33, 0], [22, 1.5], [13, 4], [7, 9], [3, 18],
                [0, 34], [-3, 18], [-7, 9], [-13, 4], [-22, 1.5], [-33, 0], [-22, -1.5], [-13, -4], [-7, -9], [-3, -18]]
        },
        style: { fill: '#8a8a8a' }
    }]
};

myChart.setOption(option);
</script>
</body>
</html>
